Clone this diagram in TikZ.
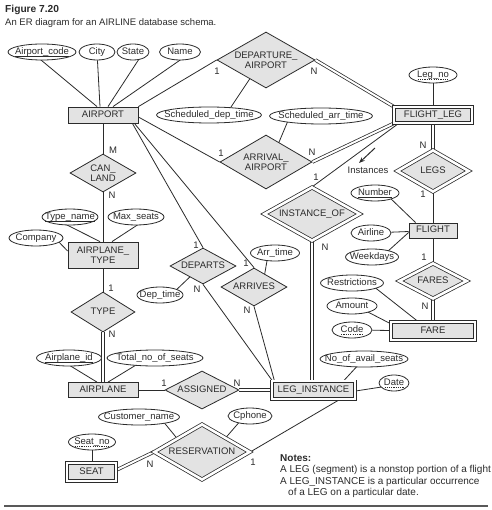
\documentclass[tikz,border=0pt]{standalone}
\usepackage{fontspec}
\setmainfont{Liberation Sans}
\usetikzlibrary{shapes.geometric,calc,backgrounds,arrows.meta}
\definecolor{ink}{HTML}{2B2B2B}
\definecolor{boxgray}{HTML}{E3E3E3}
\newcommand\zb[1]{\makebox[0pt]{\rule[-2.2pt]{0pt}{8.9pt}#1}}
\newcommand\zt[1]{\makebox[0pt]{\raisebox{-1.2pt}[\height][\depth]{\begin{tabular}{@{}c@{}}#1\end{tabular}}}}
\newsavebox\ulbox
\newcommand\sul[1]{\sbox\ulbox{#1}\rlap{\rule[-2pt]{\wd\ulbox}{0.55pt}}\usebox\ulbox}
\newcommand\dul[1]{\sbox\ulbox{#1}\rlap{\raisebox{-2pt}{\hbox to \wd\ulbox{\xleaders\hbox to 2.2pt{\hss\rule{1.2pt}{0.55pt}\hss}\hfill}}}\usebox\ulbox}
\begin{document}
\begin{tikzpicture}[x=1pt,y=-1pt,
  font=\fontsize{9.5}{10.5}\selectfont,
  every node/.style={text=ink},
  ent/.style={rectangle, draw=ink, fill=boxgray, line width=0.8pt, inner sep=0pt},
  went/.style={ent, line width=0.75pt, double=white, double distance=2.2pt},
  rel/.style={diamond, aspect=2, draw=ink, fill=boxgray, line width=0.8pt, inner sep=0pt},
  wrel/.style={rel, line width=0.75pt, double=white, double distance=2.6pt},
  attr/.style={ellipse, draw=ink, fill=white, line width=0.8pt, inner sep=0pt, minimum height=16pt},
  card/.style={inner sep=0pt},
  conn/.style={draw=ink, line width=0.8pt},
  tot/.style={conn, line width=0.75pt, double=white, double distance=2pt},
  txt/.style={anchor=base west, inner sep=0pt},
]
\useasboundingbox (0,0) rectangle (491,510);

% title
\node[txt, font=\bfseries\fontsize{10.2}{12}\selectfont] (title) at (5,13) {Figure 7.20};
\node[txt] (subtitle) at (5,25.5) {An ER diagram for an AIRLINE database schema.};

% entities
\node[ent, minimum width=70pt, minimum height=16pt] (airport) at (103,115) {\zb{AIRPORT}};
\node[went, minimum width=78.3pt, minimum height=16.3pt] (flightleg) at (433,115) {\zb{FLIGHT\_LEG}};
\node[ent, minimum width=70pt, minimum height=26pt] (airplanetype) at (103,255) {\zt{AIRPLANE\_\\TYPE}};
\node[ent, minimum width=70pt, minimum height=15pt] (airplane) at (103,390) {\zb{AIRPLANE}};
\node[ent, minimum width=48pt, minimum height=15pt] (flight) at (433,230.5) {\zb{FLIGHT}};
\node[went, minimum width=84.3pt, minimum height=18.3pt] (fare) at (433,331) {\zb{FARE}};
\node[went, minimum width=83.3pt, minimum height=17.3pt] (leginst) at (313.5,390) {\zb{LEG\_INSTANCE}};
\node[went, minimum width=49.3pt, minimum height=18.3pt] (seat) at (91.5,472) {\zb{SEAT}};

% relationships
\node[rel, minimum width=98pt, minimum height=56pt] (depairport) at (266,60) {\zt{DEPARTURE\_\\AIRPORT}};
\node[rel, minimum width=92pt, minimum height=54pt] (arrairport) at (266,162) {\zt{ARRIVAL\_\\AIRPORT}};
\node[rel, minimum width=66pt, minimum height=38pt] (canland) at (103,173) {\zt{CAN\_\\LAND}};
\node[rel, minimum width=64pt, minimum height=40pt] (typerel) at (103,312) {\zb{TYPE}};
\node[rel, minimum width=66pt, minimum height=36pt] (departs) at (203,266) {\zb{DEPARTS}};
\node[rel, minimum width=66pt, minimum height=38pt] (arrives) at (254,287) {\zb{ARRIVES}};
\node[rel, minimum width=74pt, minimum height=38pt] (assigned) at (202,390) {\zb{ASSIGNED}};
\node[wrel, minimum width=95.6pt, minimum height=53.4pt] (instanceof) at (312,214) {\zb{INSTANCE\_OF}};
\node[wrel, minimum width=71.6pt, minimum height=41.4pt] (legs) at (433,171) {\zb{LEGS}};
\node[wrel, minimum width=67.6pt, minimum height=35.4pt] (fares) at (433,281) {\zb{FARES}};
\node[wrel, minimum width=95.6pt, minimum height=55.4pt] (reservation) at (202,452) {\zb{RESERVATION}};

% attributes
\node[attr, minimum width=68pt] (atapcode) at (42,52) {\zb{\sul{Airport\_code}}};
\node[attr, minimum width=36pt] (atcity) at (97,52) {\zb{City}};
\node[attr, minimum width=32pt] (atstate) at (133,52) {\zb{State}};
\node[attr, minimum width=41pt] (atname) at (180,52) {\zb{Name}};
\node[attr, minimum width=48pt] (atlegno) at (433,75) {\zb{\dul{Leg\_no}}};
\node[attr, minimum width=105pt] (atsdep) at (209,115) {\zb{Scheduled\_dep\_time}};
\node[attr, minimum width=103pt] (atsarr) at (321,116) {\zb{Scheduled\_arr\_time}};
\node[attr, minimum width=56pt] (attname) at (70,217) {\zb{\sul{Type\_name}}};
\node[attr, minimum width=56pt] (atmaxs) at (136,217) {\zb{Max\_seats}};
\node[attr, minimum width=54pt] (atcomp) at (36,238) {\zb{Company}};
\node[attr, minimum width=46pt] (atdept) at (160,295) {\zb{Dep\_time}};
\node[attr, minimum width=49pt] (atarrt) at (275,253) {\zb{Arr\_time}};
\node[attr, minimum width=48pt] (atnum) at (375,193) {\zb{\sul{Number}}};
\node[attr, minimum width=40pt] (atairl) at (371,233) {\zb{Airline}};
\node[attr, minimum width=53pt] (atweek) at (372,257) {\zb{Weekdays}};
\node[attr, minimum width=63pt] (atrestr) at (352,283) {\zb{Restrictions}};
\node[attr, minimum width=50pt] (atamt) at (352,306) {\zb{Amount}};
\node[attr, minimum width=40pt] (atcode) at (352,330) {\zb{\dul{Code}}};
\node[attr, minimum width=65pt] (atplid) at (69,358) {\zb{\sul{Airplane\_id}}};
\node[attr, minimum width=96pt] (attotal) at (155,358) {\zb{Total\_no\_of\_seats}};
\node[attr, minimum width=88pt] (atavail) at (364,359) {\zb{No\_of\_avail\_seats}};
\node[attr, minimum width=30pt] (atdate) at (394,383) {\zb{\dul{Date}}};
\node[attr, minimum width=81pt] (atcust) at (139,417) {\zb{Customer\_name}};
\node[attr, minimum width=44pt] (atcph) at (250,416) {\zb{Cphone}};
\node[attr, minimum width=47pt] (atseatno) at (92,442) {\zb{\dul{Seat\_no}}};

% cardinality labels
\node[card] (c1) at (217,71) {1};
\node[card] (c2) at (314,71) {N};
\node[card] (c3) at (221,153) {1};
\node[card] (c4) at (312,152) {N};
\node[card] (c5) at (316,177) {1};
\node[card] (c6) at (325,247) {N};
\node[card] (c7) at (423,145) {N};
\node[card] (c8) at (423,194) {1};
\node[card] (c9) at (424,257) {1};
\node[card] (c10) at (425,306) {N};
\node[card] (c11) at (113,150) {M};
\node[card] (c12) at (112,195) {N};
\node[card] (c13) at (111,288) {1};
\node[card] (c14) at (112,334) {N};
\node[card] (c15) at (164,383) {1};
\node[card] (c16) at (237,383) {N};
\node[card] (c17) at (196,245) {1};
\node[card] (c18) at (197,289) {N};
\node[card] (c19) at (246,263) {1};
\node[card] (c20) at (247,310) {N};
\node[card] (c21) at (150,464) {N};
\node[card] (c22) at (253,462) {1};

\node[card] (instlbl) at (368,170) {Instances};

% notes
\node[txt, font=\bfseries\fontsize{10}{12}\selectfont] (notes) at (280,461) {Notes:};
\node[txt, font=\fontsize{10}{12}\selectfont] (note1) at (280,472.5) {A LEG (segment) is a nonstop portion of a flight};
\node[txt, font=\fontsize{10}{12}\selectfont] (note2) at (280,484) {A LEG\_INSTANCE is a particular occurrence};
\node[txt, font=\fontsize{10}{12}\selectfont] (note3) at (288,495.5) {of a LEG on a particular date.};

\draw[line width=1.1pt, black!65] (4,506) -- (488,506);

\begin{pgfonlayer}{background}
\fill[white] (0,0) rectangle (491,510);
% AIRPORT attributes
\draw[conn] ($(atapcode)+(-7,3)$) -- ($(airport.north)+(-6,0)$);
\draw[conn] (atcity) -- ($(airport.north)+(-3,0)$);
\draw[conn] ($(atstate)+(8,4)$) -- ($(airport.north)+(5,0)$);
\draw[conn] ($(atname)+(6,4)$) -- ($(airport.north)+(10,0)$);
% DEPARTURE_AIRPORT
\draw[conn] (airport.north east) -- (depairport.west);
\draw[tot] (depairport.east) -- (flightleg.north west);
\draw[conn] ($(atsdep)+(18,-2)$) -- ($(depairport)+(-13,14)$);
% ARRIVAL_AIRPORT
\draw[conn] ($(airport.east)+(0,2)$) -- (arrairport.west);
\draw[tot] (arrairport.east) -- (flightleg.south west);
\draw[conn] ($(atsarr)+(-31,0)$) -- ($(arrairport)+(8,-8)$);
% FLIGHT_LEG
\draw[conn] (atlegno) -- (flightleg);
\draw[conn] ($(flightleg.south west)+(5,0)$) -- (instanceof.north);
\draw[tot] (instanceof.south) -- (instanceof.south |- leginst.north);
\draw[tot] (flightleg.south) -- (legs.north);
\draw[conn] (legs.south) -- (flight.north);
\draw[conn] (flight.south) -- (fares.north);
\draw[tot] (fares.south) -- (fare.north);
\draw[conn, line width=1pt, -{Stealth[length=6pt,width=4.5pt]}] ($(instlbl)+(7,-22)$) -- ($(instlbl)+(-9,-7)$);
% FLIGHT attributes
\draw[conn] ($(atnum)+(13,3)$) -- ($(flight.north west)+(7,0)$);
\draw[conn] (atairl) -- ($(flight.west)+(0,1)$);
\draw[conn] ($(atweek)+(15,-5)$) -- ($(flight.west)+(0,2)$);
% FARE attributes
\draw[conn] ($(atrestr)+(21,3)$) -- ($(fare.north)+(-15,0)$);
\draw[conn] ($(atamt)+(12,4)$) -- ($(fare)+(-38,-5)$);
\draw[conn] (atcode) -- (fare);
% CAN_LAND, AIRPLANE_TYPE
\draw[conn] (airport.south) -- (canland.north);
\draw[conn] (canland.south) -- (airplanetype.north);
\draw[conn] ($(attname)+(-9,5)$) -- ($(airplanetype.north)+(-3,0)$);
\draw[conn] ($(atmaxs)+(6,5)$) -- ($(airplanetype.north)+(9,0)$);
\draw[conn] ($(atcomp)+(19,0)$) -- ($(airplanetype.west)+(0,-4)$);
\draw[conn] (airplanetype.south) -- (typerel.north);
\draw[tot] (typerel.south) -- (airplane.north);
% AIRPLANE
\draw[conn] ($(atplid)+(-5,4)$) -- ($(airplane.north)+(-6,0)$);
\draw[conn] ($(attotal)+(-14,4)$) -- ($(airplane.north)+(5,0)$);
\draw[conn] (airplane.east) -- (assigned.west);
\draw[tot] (assigned.east) -- (assigned.east -| leginst.west);
% DEPARTS, ARRIVES
\draw[conn] ($(airport.south east)+(-6,0)$) -- (departs.north);
\draw[conn] (departs.south) -- ($(leginst.north west)+(1,0)$);
\draw[conn] ($(atdept)+(13,-2)$) -- ($(departs)+(-9,7)$);
\draw[conn] ($(airport.south east)+(-4,0)$) -- (arrives.north);
\draw[conn] (arrives.south) -- ($(leginst.north west)+(3,0)$);
\draw[conn] ($(atarrt)+(-7,2)$) -- ($(arrives)+(10,-9)$);
% LEG_INSTANCE attributes
\draw[conn] ($(atavail)+(-3,3)$) -- ($(leginst.north)+(30,0)$);
\draw[conn] ($(atdate)+(-6,3)$) -- ($(leginst.east)+(0,1)$);
% RESERVATION
\draw[conn] (reservation.east) -- ($(leginst.south)+(27,0)$);
\draw[tot] ($(seat.east)+(0,-2)$) -- (reservation.west);
\draw[conn] ($(atcust)+(23,3)$) -- ($(reservation)+(-22,-10)$);
\draw[conn] ($(atcph)+(-8,3)$) -- ($(reservation)+(20,-10)$);
\draw[conn] (atseatno) -- (atseatno |- seat.north);
\end{pgfonlayer}
\end{tikzpicture}
\end{document}
